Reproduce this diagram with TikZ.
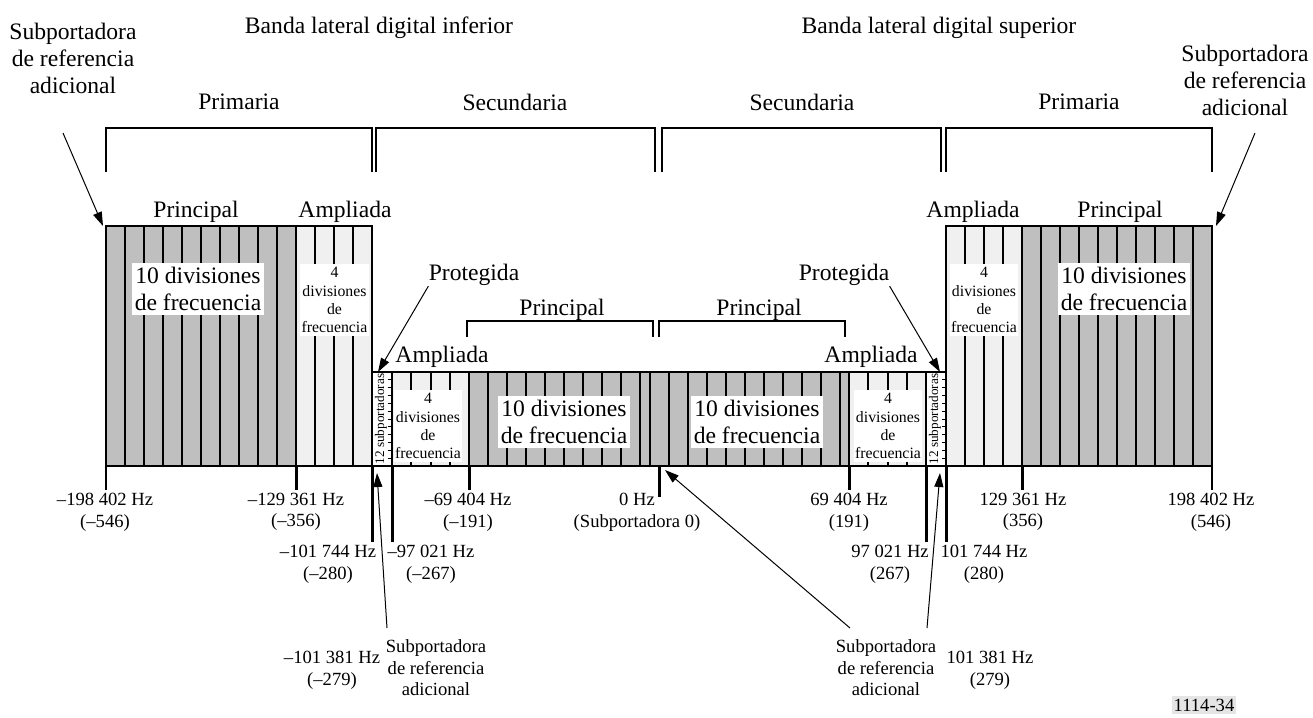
\documentclass[tikz,border=0pt]{standalone}
\usepackage{fontspec}
\setmainfont{Liberation Serif}
\usetikzlibrary{arrows.meta}

\begin{document}
\begin{tikzpicture}[x=0.5pt, y=-0.5pt,
    lbl/.style={font=\fontsize{11.8}{13.5}\selectfont, inner sep=0pt, align=center},
    hz/.style={font=\fontsize{9.3}{10.8}\selectfont, inner sep=0pt, align=center},
    big/.style={fill=white, inner xsep=1.5pt, inner ysep=2pt, align=center, font=\fontsize{11.8}{13.3}\selectfont},
    small/.style={fill=white, inner xsep=0.8pt, inner ysep=1.5pt, align=center, font=\fontsize{7.9}{9.1}\selectfont},
    tiny/.style={font=\fontsize{6.6}{7}\selectfont, rotate=90, inner sep=0pt},
    prin/.style={draw, line width=1pt, fill=black!25},
    ampl/.style={draw, line width=1pt, fill=black!6},
    prot/.style={draw, line width=1pt, fill=white},
    div/.style={line width=1pt},
    tk/.style={line width=1.5pt},
    brk/.style={line width=0.6pt},
    arr/.style={-{Triangle[length=7pt, width=4.5pt]}, line width=0.5pt}]

    \useasboundingbox (0,0) rectangle (1313,718);

    % Titulos
    \node[lbl] (refL) at (73,58) {Subportadora\\de referencia\\adicional};
    \node[lbl] (refR) at (1245,80) {Subportadora\\de referencia\\adicional};
    \node[lbl] (bandL) at (379,28) {Banda lateral digital inferior};
    \node[lbl] (bandR) at (939,28) {Banda lateral digital superior};
    \node[lbl] (priL) at (239,102) {Primaria};
    \node[lbl] (secL) at (515,102) {Secundaria};
    \node[lbl] (secR) at (802,102) {Secundaria};
    \node[lbl] (priR) at (1079,102) {Primaria};

    % Llaves
    \draw[brk] (106,172) |- (372,128) -- (372,172);
    \draw[brk] (376,172) |- (655,128) -- (655,172);
    \draw[brk] (662,172) |- (941,128) -- (941,172);
    \draw[brk] (946,172) |- (1212,128) -- (1212,172);
    \draw[brk] (467,337) |- (653,321) -- (653,337);
    \draw[brk] (659,337) |- (845,321) -- (845,337);

    % Bandas primarias
    \draw[prin] (106,226) rectangle (296,466);
    \foreach \x in {125,144,...,277} \draw[div] (\x,226) -- (\x,466);
    \draw[ampl] (296,226) rectangle (372,466);
    \foreach \x in {315,334,353} \draw[div] (\x,226) -- (\x,466);
    \draw[ampl] (946,226) rectangle (1022,466);
    \foreach \x in {965,984,1003} \draw[div] (\x,226) -- (\x,466);
    \draw[prin] (1022,226) rectangle (1212,466);
    \foreach \x in {1041,1060,...,1193} \draw[div] (\x,226) -- (\x,466);

    % Bandas secundarias
    \draw[prot] (372,372) rectangle (392,466);
    \draw[ampl] (392,372) rectangle (469,466);
    \foreach \x in {411,430.5,450} \draw[div] (\x,372) -- (\x,466);
    \draw[prin] (469,372) rectangle (849,466);
    \foreach \x in {488,507,526,545,564,583,602,621,640,650,669,688,707,726,745,764,783,802,821,840}
        \draw[div] (\x,372) -- (\x,466);
    \draw[ampl] (849,372) rectangle (926,466);
    \foreach \x in {868,888,907} \draw[div] (\x,372) -- (\x,466);
    \draw[prot] (926,372) rectangle (946,466);
    \foreach \k in {1,...,11} {
        \draw[line width=0.5pt] (388,{372+\k*94/12}) -- (392,{372+\k*94/12});
        \draw[line width=0.5pt] (942,{372+\k*94/12}) -- (946,{372+\k*94/12});
    }

    % Textos de divisiones
    \node[big] (dpL) at (198,289) {10 divisiones\\de frecuencia};
    \node[small] (daL) at (334.5,300) {4\\divisiones\\de\\frecuencia};
    \node[small] (daR) at (984,300) {4\\divisiones\\de\\frecuencia};
    \node[big] (dpR) at (1124,289) {10 divisiones\\de frecuencia};
    \node[small] (dsaL) at (428,426) {4\\divisiones\\de\\frecuencia};
    \node[big] (dspL) at (564,422) {10 divisiones\\de frecuencia};
    \node[big] (dspR) at (757,422) {10 divisiones\\de frecuencia};
    \node[small] (dsaR) at (888,426) {4\\divisiones\\de\\frecuencia};
    \node[tiny] (subL) at (381,419) {12 subportadoras};
    \node[tiny] (subR) at (935,419) {12 subportadoras};

    % Rotulos de bloques
    \node[lbl] (prinL) at (196,212) {Principal};
    \node[lbl] (amplL) at (345,212) {Ampliada};
    \node[lbl] (amplR) at (973,212) {Ampliada};
    \node[lbl] (prinR) at (1120,212) {Principal};
    \node[lbl] (protL) at (474,275) {Protegida};
    \node[lbl] (protR) at (844,275) {Protegida};
    \node[lbl] (psecL) at (562,310) {Principal};
    \node[lbl] (psecR) at (759,310) {Principal};
    \node[lbl] (asecL) at (442,357) {Ampliada};
    \node[lbl] (asecR) at (871,357) {Ampliada};

    % Marcas de frecuencia
    \draw[line width=1pt] (106,466) -- (106,490);
    \draw[tk] (296,466) -- (296,490);
    \draw[tk] (372,466) -- (372,542);
    \draw[tk] (392,466) -- (392,542);
    \draw[tk] (469,466) -- (469,490);
    \draw[tk] (659,466) -- (659,497);
    \draw[tk] (849,466) -- (849,490);
    \draw[tk] (926,466) -- (926,542);
    \draw[tk] (946,466) -- (946,542);
    \draw[tk] (1022,466) -- (1022,490);
    \draw[line width=1pt] (1212,466) -- (1212,490);

    \node[hz] (f546m) at (105,512) {–198 402 Hz\\(–546)};
    \node[hz] (f356m) at (296,512) {–129 361 Hz\\(–356)};
    \node[hz] (f191m) at (468,512) {–69 404 Hz\\(–191)};
    \node[hz] (f0) at (637,512) {0 Hz\\(Subportadora 0)};
    \node[hz] (f191) at (849,512) {69 404 Hz\\(191)};
    \node[hz] (f356) at (1023,512) {129 361 Hz\\(356)};
    \node[hz] (f546) at (1211,512) {198 402 Hz\\(546)};
    \node[hz] (f280m) at (328,564) {–101 744 Hz\\(–280)};
    \node[hz] (f267m) at (431,564) {–97 021 Hz\\(–267)};
    \node[hz] (f267) at (890,564) {97 021 Hz\\(267)};
    \node[hz] (f280) at (984,564) {101 744 Hz\\(280)};
    \node[hz] (f279m) at (332,670) {–101 381 Hz\\(–279)};
    \node[hz] (f279) at (990,670) {101 381 Hz\\(279)};
    \node[hz] (refBL) at (436,668) {Subportadora\\de referencia\\adicional};
    \node[hz] (refBR) at (886,668) {Subportadora\\de referencia\\adicional};
    \node[hz, fill=black!10, inner xsep=1pt, inner ysep=1.5pt] (fig) at (1204,705) {1114-34};

    % Flechas
    \coordinate (refLa) at (63,133);
    \coordinate (refLb) at (103,226);
    \coordinate (refRa) at (1255,133);
    \coordinate (refRb) at (1216,226);
    \coordinate (protLb) at (378,372);
    \coordinate (protRb) at (940,372);
    \coordinate (refBLa) at (387,628);
    \coordinate (refBLb) at (377,473);
    \coordinate (refBRa) at (927,628);
    \coordinate (refBRb) at (940,473);
    \coordinate (refBRc) at (850,628);
    \coordinate (zeroB) at (665,470);
    \draw[arr] (refLa) -- (refLb);
    \draw[arr] (refRa) -- (refRb);
    \draw[arr] (protL.south west) -- (protLb);
    \draw[arr] (protR.south east) -- (protRb);
    \draw[arr] (refBLa) -- (refBLb);
    \draw[arr] (refBRa) -- (refBRb);
    \draw[arr] (refBRc) -- (zeroB);
\end{tikzpicture}
\end{document}
